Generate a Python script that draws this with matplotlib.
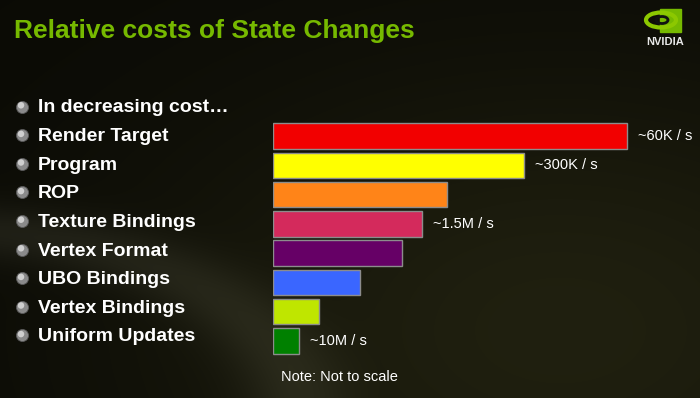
import numpy as np
import matplotlib.pyplot as plt
from matplotlib.patches import Rectangle, Ellipse

# data
title = "Relative costs of State Changes"
header = "In decreasing cost\u2026"
categories = ["Render Target", "Program", "ROP", "Texture Bindings",
              "Vertex Format", "UBO Bindings", "Vertex Bindings", "Uniform Updates"]
# relative cost, arbitrary units (not to scale)
costs = [354, 251, 174, 149, 129, 87, 46, 26]
rates = ["~60K / s", "~300K / s", "", "~1.5M / s", "", "", "", "~10M / s"]
bar_colors = ["#f20000", "#ffff00", "#ff8418", "#d42a5c",
              "#660066", "#3a66ff", "#bfe600", "#008000"]
note = "Note: Not to scale"

plt.rcParams['font.family'] = ['Liberation Sans', 'DejaVu Sans']

W, H = 700, 398
fig = plt.figure(figsize=(W / 100, H / 100), dpi=100)

# background in pixel coordinates
bg = fig.add_axes([0, 0, 1, 1])
bg.set_xlim(0, W)
bg.set_ylim(H, 0)
bg.axis('off')
yy, xx = np.mgrid[0:H, 0:W]
glow = np.exp(-(((xx - 560) / 420.0) ** 2 + ((yy - 330) / 260.0) ** 2))
# soft grey band on the left, hinting at the slide's swoosh
band = np.exp(-((np.hypot((xx + 60) / 1.9, yy - 420) - 190) / 28.0) ** 2) * (xx < 380)
img = np.zeros((H, W, 3))
img[..., 0] = 0.04 + 0.085 * glow + 0.07 * band
img[..., 1] = 0.04 + 0.085 * glow + 0.07 * band
img[..., 2] = 0.02 + 0.04 * glow + 0.06 * band
bg.imshow(img, extent=[0, W, H, 0], aspect='auto', zorder=0)

# title
bg.text(14, 31, title, color="#76b900", fontsize=19, fontweight='bold',
        va='center', ha='left', zorder=5)

# logo
bg.add_patch(Rectangle((660, 9), 21, 23, color="#76b900", zorder=5))
bg.add_patch(Ellipse((661, 20), 30, 15, fill=False, ec="#8cc800", lw=3, zorder=6))
bg.add_patch(Ellipse((662, 20), 12, 7, fill=False, ec="#111111", lw=2, zorder=7))
bg.text(665, 42, "NVIDIA", color="#e8e8e8", fontsize=8, fontweight='bold',
        ha='center', va='center', zorder=5)

# bullet list
rows = [header] + categories
for i, t in enumerate(rows):
    y = 106.5 + i * 28.6
    bg.scatter([22], [y], s=75, color="#8a8a8a", edgecolors="#5a5a5a",
               linewidths=0.6, zorder=5)
    bg.scatter([21], [y - 1.2], s=22, color="#cfcfcf", edgecolors='none',
               zorder=6)
    bg.text(38, y + 1.5, t, color="white", fontsize=14, fontweight='bold',
            va='center', ha='left', zorder=5)

# bars
top_px, bot_px = 121.4, 355.6
ax = fig.add_axes([273 / W, 1 - bot_px / H, (W - 273) / W, (bot_px - top_px) / H])
ax.set_xlim(0, W - 273)
ax.set_ylim(len(categories) - 0.5, -0.5)
ax.axis('off')
ax.patch.set_alpha(0)
ypos = np.arange(len(categories))
ax.barh(ypos, costs, height=0.875, color=bar_colors, edgecolor="#8c8c8c",
        linewidth=1.0, zorder=3)
for y, c, r in zip(ypos, costs, rates):
    if r:
        ax.annotate(r, (c, y), xytext=(11, 0), textcoords='offset pixels',
                    color="white", fontsize=10.5, va='center', ha='left')

bg.text(281, 377, note, color="white", fontsize=10.5, va='center', ha='left',
        zorder=5)

fig.savefig("out.png", dpi=100, facecolor='black')
